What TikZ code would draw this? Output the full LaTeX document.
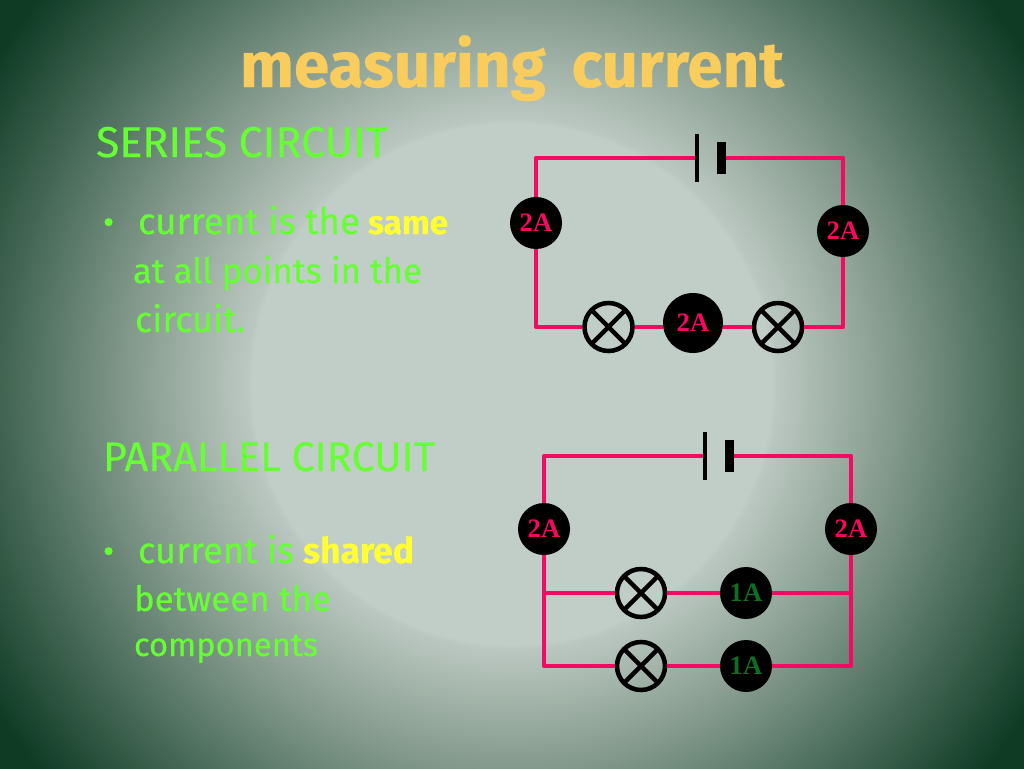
\documentclass[tikz,border=0pt]{standalone}
\usepackage{fontspec}
\usepackage{graphicx}
\setmainfont{Fira Sans}[FakeBold=0.35,BoldFont={Fira Sans Bold}]
\newfontfamily\serifb{Liberation Serif}[BoldFont={Liberation Serif Bold}]
\definecolor{wire}{HTML}{F50A62}
\definecolor{lime}{HTML}{66FF33}
\definecolor{gold}{HTML}{F8CD5E}
\definecolor{yel}{HTML}{FFFF33}
\definecolor{grn}{HTML}{0F6E22}
\definecolor{bgA}{HTML}{C1CDC7}
\definecolor{bgB}{HTML}{BAC7C1}
\definecolor{bgF}{HTML}{A8B8AE}
\definecolor{bgC}{HTML}{8A9F92}
\definecolor{bgD}{HTML}{3F6350}
\definecolor{bgE}{HTML}{0F3B25}
\pgfdeclareradialshading{bgshade}{\pgfpoint{0bp}{0bp}}{
 color(0bp)=(bgA); color(6.5bp)=(bgA); color(6.65bp)=(bgB); color(7.65bp)=(bgF); color(9.25bp)=(bgC); color(12.85bp)=(bgD); color(15.25bp)=(bgE); color(50bp)=(bgE)}
\tikzset{
 lbl/.style={anchor=base west,inner sep=0pt,outer sep=0pt},
 wireln/.style={draw=wire,line width=3.6pt,line join=round,line cap=butt},
 meter/.style={circle,fill=black,minimum size=#1*.75pt,inner sep=0pt,outer sep=0pt,font=\serifb\bfseries\fontsize{20}{20}\selectfont},
 lamp/.style={circle,draw=black,line width=3.4pt,minimum size=48*.75pt,inner sep=0pt,outer sep=0pt},
 lampx/.style={draw=black,line width=3.4pt},
 thinplate/.style={fill=black,inner sep=0pt,outer sep=0pt,minimum width=2.4pt,minimum height=36pt},
 thickplate/.style={fill=black,inner sep=0pt,outer sep=0pt,minimum width=6.9pt,minimum height=24pt},
}
\newcommand{\fitw}[2]{\resizebox{\dimexpr #1pt*3/4\relax}{!}{#2}}
\begin{document}
\begin{tikzpicture}[x=.75pt,y=-.75pt]
\useasboundingbox (0,0) rectangle (1024,768);
\begin{scope}
\clip (0,0) rectangle (1024,768);
\shade[shading=bgshade] (512,384) ellipse (1000 and 1000);
\end{scope}
% text
\node[lbl,text=gold] (title) at (240,87) {\fitw{544}{\bfseries measuring\, current}};
\node[lbl,text=lime] (h1) at (96,157) {\fitw{292}{SERIES CIRCUIT}};
\node[lbl,text=lime] (b1) at (103,234) {\fontsize{26}{26}\selectfont •};
\node[lbl,text=lime] (l1a) at (138,234) {\fitw{222}{current is the}};
\node[lbl,text=yel] (l1b) at (368,234) {\fitw{80}{\bfseries same}};
\node[lbl,text=lime] (l2) at (133,283) {\fitw{289}{at all points in the}};
\node[lbl,text=lime] (l3) at (135,332) {\fitw{110}{circuit.}};
\node[lbl,text=lime] (h2) at (103,471) {\fitw{332}{PARALLEL CIRCUIT}};
\node[lbl,text=lime] (b2) at (103,563) {\fontsize{26}{26}\selectfont •};
\node[lbl,text=lime] (l4a) at (138,563) {\fitw{156}{current is}};
\node[lbl,text=yel] (l4b) at (303,563) {\fitw{111}{\bfseries shared}};
\node[lbl,text=lime] (l5) at (134,611) {\fitw{197}{between the}};
\node[lbl,text=lime] (l6) at (134,656) {\fitw{184}{components}};
% series circuit
\coordinate (stl) at (536,158); \coordinate (str) at (843,158);
\coordinate (sbl) at (536,327); \coordinate (sbr) at (843,327);
\node[thinplate] (sp1) at (697,158) {};
\node[thickplate] (sp2) at (721.5,158) {};
\node[meter=52,text=wire] (sm1) at (536,223) {2A};
\node[meter=52,text=wire] (sm2) at (843,231) {2A};
\node[meter=60,text=wire] (sm3) at (693,323) {2A};
\node[lamp] (sl1) at (608.5,327) {};
\node[lamp] (sl2) at (778,327) {};
\draw[lampx] (sl1.45) -- (sl1.225) (sl1.135) -- (sl1.315);
\draw[lampx] (sl2.45) -- (sl2.225) (sl2.135) -- (sl2.315);
\draw[wireln] (sp1) -- (stl) -- (sm1.north);
\draw[wireln] (sm1.south) -- (sbl) -- ([xshift=-1.7pt]sl1.west);
\draw[wireln] ([xshift=1.7pt]sl1.east) -- (sl1.east -| sm3.west);
\draw[wireln] (sl2.west -| sm3.east) -- ([xshift=-1.7pt]sl2.west);
\draw[wireln] ([xshift=1.7pt]sl2.east) -- (sbr) -- (sm2.south);
\draw[wireln] (sm2.north) -- (str) -- (sp2);
% parallel circuit
\coordinate (ptl) at (544,456); \coordinate (ptr) at (851,456);
\coordinate (pbl) at (544,666); \coordinate (pbr) at (851,666);
\coordinate (pjl) at (544,593); \coordinate (pjr) at (851,593);
\node[thinplate] (pp1) at (705,456) {};
\node[thickplate] (pp2) at (729.5,456) {};
\node[meter=52,text=wire] (pm1) at (544,529) {2A};
\node[meter=52,text=wire] (pm2) at (851,529) {2A};
\node[lamp] (pl1) at (641,593) {};
\node[lamp] (pl2) at (641,666) {};
\node[meter=52,text=grn] (pm3) at (746,593) {1A};
\node[meter=52,text=grn] (pm4) at (746,666) {1A};
\draw[lampx] (pl1.45) -- (pl1.225) (pl1.135) -- (pl1.315);
\draw[lampx] (pl2.45) -- (pl2.225) (pl2.135) -- (pl2.315);
\draw[wireln] (pp1) -- (ptl) -- (pm1.north);
\draw[wireln] (pm1.south) -- (pbl) -- ([xshift=-1.7pt]pl2.west);
\draw[wireln] (pjl) -- ([xshift=-1.7pt]pl1.west);
\draw[wireln] ([xshift=1.7pt]pl1.east) -- (pm3.west);
\draw[wireln] ([xshift=1.7pt]pl2.east) -- (pm4.west);
\draw[wireln] (pm3.east) -- (pjr);
\draw[wireln] (pm4.east) -- (pbr) -- (pm2.south);
\draw[wireln] (pm2.north) -- (ptr) -- (pp2);
\end{tikzpicture}
\end{document}
